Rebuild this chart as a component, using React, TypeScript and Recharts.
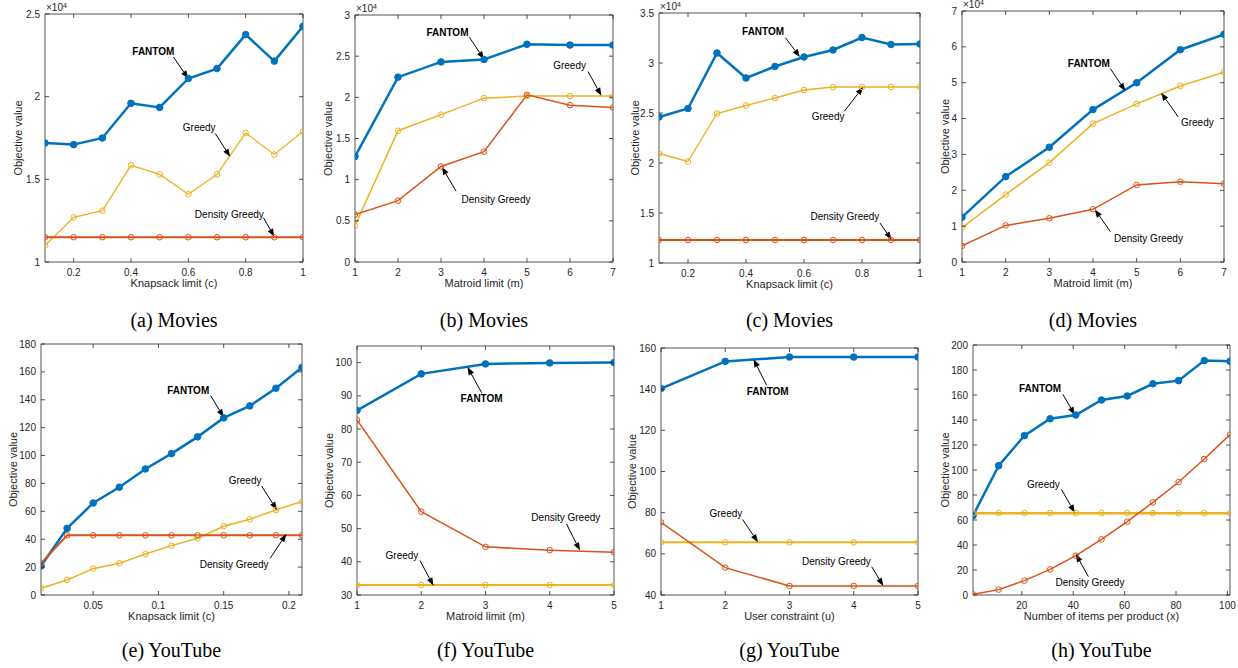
import React from 'react';
import { LineChart, Line, XAxis, YAxis, ReferenceArea, ReferenceLine, ReferenceDot } from 'recharts';

const BLUE = '#0072BD';
const YEL = '#EDB120';
const RED = '#D95319';
const AX = '#262626';
const FONT = '"Liberation Sans", Arial, Helvetica, sans-serif';
const SERIF = '"Liberation Serif", "Times New Roman", Times, serif';

// ---------- (a) Movies, knapsack ----------
const aX = [0.1, 0.2, 0.3, 0.4, 0.5, 0.6, 0.7, 0.8, 0.9, 1.0];
const aFantom = [17200, 17100, 17500, 19600, 19350, 21100, 21700, 23750, 22150, 24250];
const aGreedy = [11000, 12700, 13100, 15850, 15300, 14100, 15300, 17800, 16500, 17900];
const aDensity = [11500, 11500, 11500, 11500, 11500, 11500, 11500, 11500, 11500, 11500];
const aXTicks = [0.2, 0.4, 0.6, 0.8, 1];
const aYTicks = [10000, 15000, 20000, 25000];

// ---------- (b) Movies, matroid ----------
const bX = [1, 2, 3, 4, 5, 6, 7];
const bFantom = [12800, 22450, 24300, 24600, 26450, 26350, 26350];
const bGreedy = [4400, 15950, 17900, 19900, 20150, 20150, 20150];
const bDensity = [5750, 7450, 11600, 13400, 20300, 19050, 18750];
const bXTicks = [1, 2, 3, 4, 5, 6, 7];
const bYTicks = [0, 5000, 10000, 15000, 20000, 25000, 30000];

// ---------- (c) Movies, knapsack ----------
const cX = [0.1, 0.2, 0.3, 0.4, 0.5, 0.6, 0.7, 0.8, 0.9, 1.0];
const cFantom = [24600, 25450, 31000, 28500, 29650, 30600, 31300, 32550, 31850, 31900];
const cGreedy = [20950, 20150, 24950, 25750, 26500, 27300, 27600, 27600, 27600, 27600];
const cDensity = [12300, 12300, 12300, 12300, 12300, 12300, 12300, 12300, 12300, 12300];
const cXTicks = [0.2, 0.4, 0.6, 0.8, 1];
const cYTicks = [10000, 15000, 20000, 25000, 30000, 35000];

// ---------- (d) Movies, matroid ----------
const dX = [1, 2, 3, 4, 5, 6, 7];
const dFantom = [12500, 23800, 32000, 42500, 50000, 59200, 63500];
const dGreedy = [9600, 18800, 27700, 38600, 44100, 49100, 52900];
const dDensity = [4500, 10200, 12200, 14700, 21500, 22400, 21800];
const dXTicks = [1, 2, 3, 4, 5, 6, 7];
const dYTicks = [0, 10000, 20000, 30000, 40000, 50000, 60000, 70000];

// ---------- (e) YouTube, knapsack ----------
const eX = [0.01, 0.03, 0.05, 0.07, 0.09, 0.11, 0.13, 0.15, 0.17, 0.19, 0.21];
const eFantom = [20.8, 47.8, 66, 77.3, 90.4, 101.4, 113.4, 127, 135.6, 148.3, 163.2];
const eGreedy = [4.8, 10.8, 18.9, 22.7, 29.4, 35.4, 40.7, 49.3, 54.3, 61, 67];
const eDensity = [22.7, 42.8, 42.8, 42.8, 42.8, 42.8, 42.8, 42.8, 42.8, 42.8, 42.8];
const eXTicks = [0.05, 0.1, 0.15, 0.2];
const eYTicks = [0, 20, 40, 60, 80, 100, 120, 140, 160, 180];

// ---------- (f) YouTube, matroid ----------
const fX = [1, 2, 3, 4, 5];
const fFantom = [85.6, 96.6, 99.6, 99.9, 100];
const fGreedy = [33, 33, 33, 33, 33];
const fDensity = [82.7, 55.1, 44.5, 43.5, 42.9];
const fXTicks = [1, 2, 3, 4, 5];
const fYTicks = [30, 40, 50, 60, 70, 80, 90, 100];

// ---------- (g) YouTube, user constraint ----------
const gX = [1, 2, 3, 4, 5];
const gFantom = [140.3, 153.5, 155.6, 155.6, 155.6];
const gGreedy = [65.6, 65.6, 65.6, 65.6, 65.6];
const gDensity = [75.3, 53.3, 44.4, 44.4, 44.4];
const gXTicks = [1, 2, 3, 4, 5];
const gYTicks = [40, 60, 80, 100, 120, 140, 160];

// ---------- (h) YouTube, items per product ----------
const hX = [1, 11, 21, 31, 41, 51, 61, 71, 81, 91, 101];
const hFantom = [63.5, 103.5, 127.5, 141, 144, 156, 159.2, 169, 171.5, 187.5, 187];
const hGreedy = [65.5, 65.5, 65.5, 65.5, 65.5, 65.5, 65.5, 65.5, 65.5, 65.5, 65.5];
const hDensity = [0.5, 4.3, 11.5, 20.5, 31.5, 44.5, 58.7, 74.1, 90.4, 108.8, 128.3];
const hXTicks = [20, 40, 60, 80, 100];
const hYTicks = [0, 20, 40, 60, 80, 100, 120, 140, 160, 180, 200];

// annotations: [text, textX, textY, arrowFromX, arrowFromY, arrowToX, arrowToY]
type Ann = [string, number, number, number, number, number, number];
const aAnn: Ann[] = [
  ['FANTOM', 0.478, 22740, 0.548, 22400, 0.6, 21090],
  ['Greedy', 0.638, 18110, 0.694, 17770, 0.746, 16360],
  ['Density Greedy', 0.743, 12880, 0.862, 12680, 0.9, 11530],
];
const bAnn: Ann[] = [
  ['FANTOM', 3.15, 27900, 3.66, 27300, 4.0, 24630],
  ['Greedy', 5.99, 23860, 6.42, 23130, 6.73, 20190],
  ['Density Greedy', 4.28, 7590, 3.35, 8600, 3.02, 11550],
];
const cAnn: Ann[] = [
  ['FANTOM', 0.459, 33170, 0.536, 32530, 0.586, 30600],
  ['Greedy', 0.683, 24670, 0.739, 25170, 0.804, 27600],
  ['Density Greedy', 0.741, 14670, 0.862, 14000, 0.902, 12330],
];
const dAnn: Ann[] = [
  ['FANTOM', 3.905, 55340, 4.4, 53900, 4.74, 47700],
  ['Greedy', 6.39, 38800, 5.95, 40500, 5.56, 47200],
  ['Density Greedy', 5.27, 6500, 4.4, 8450, 4.04, 14670],
];
const eAnn: Ann[] = [
  ['FANTOM', 0.1228, 146.7, 0.14, 143, 0.15, 127.5],
  ['Greedy', 0.1664, 82, 0.179, 78.2, 0.1908, 61],
  ['Density Greedy', 0.158, 22, 0.1856, 26.3, 0.198, 43.8],
];
const fAnn: Ann[] = [
  ['FANTOM', 2.94, 89.2, 2.94, 90.9, 2.72, 98.7],
  ['Greedy', 1.7, 41.8, 1.98, 40.4, 2.19, 32.8],
  ['Density Greedy', 4.25, 53.4, 4.26, 51.4, 4.47, 43.4],
];
const gAnn: Ann[] = [
  ['FANTOM', 2.66, 139.1, 2.645, 141.9, 2.44, 154.5],
  ['Greedy', 2.01, 79.6, 2.27, 76.7, 2.51, 65.6],
  ['Density Greedy', 3.73, 56.2, 4.28, 53.7, 4.46, 44.4],
];
const hAnn: Ann[] = [
  ['FANTOM', 27.1, 165.3, 36, 160.5, 40.6, 144],
  ['Greedy', 28.4, 88.8, 35.4, 84.5, 40.6, 65.9],
  ['Density Greedy', 46.5, 10, 45.9, 14.7, 41, 32.8],
];

type Panel = {
  x: number[]; fantom: number[]; greedy: number[]; density: number[];
  xDomain: [number, number]; yDomain: [number, number];
  xTicks: number[]; yTicks: number[]; scale: number;
  xLabel: string; caption: string; ann: Ann[];
  L: number; T: number; R: number; B: number; yLabOff: number;
  gW: number; dW: number; capY: number;
};

const panels: Panel[] = [
  { x: aX, fantom: aFantom, greedy: aGreedy, density: aDensity, xDomain: [0.1, 1], yDomain: [10000, 25000], xTicks: aXTicks, yTicks: aYTicks, scale: 1e4, xLabel: 'Knapsack limit (c)', caption: '(a) Movies', ann: aAnn, L: 45, T: 14, R: 303, B: 262, yLabOff: -27, gW: 1.3, dW: 2, capY: 320 },
  { x: bX, fantom: bFantom, greedy: bGreedy, density: bDensity, xDomain: [1, 7], yDomain: [0, 30000], xTicks: bXTicks, yTicks: bYTicks, scale: 1e4, xLabel: 'Matroid limit (m)', caption: '(b) Movies', ann: bAnn, L: 355, T: 15, R: 613, B: 262, yLabOff: -27, gW: 1.5, dW: 1.5, capY: 320 },
  { x: cX, fantom: cFantom, greedy: cGreedy, density: cDensity, xDomain: [0.1, 1], yDomain: [10000, 35000], xTicks: cXTicks, yTicks: cYTicks, scale: 1e4, xLabel: 'Knapsack limit (c)', caption: '(c) Movies', ann: cAnn, L: 659, T: 13, R: 920, B: 263, yLabOff: -24, gW: 1.3, dW: 2.2, capY: 320 },
  { x: dX, fantom: dFantom, greedy: dGreedy, density: dDensity, xDomain: [1, 7], yDomain: [0, 70000], xTicks: dXTicks, yTicks: dYTicks, scale: 1e4, xLabel: 'Matroid limit (m)', caption: '(d) Movies', ann: dAnn, L: 962, T: 11, R: 1224, B: 262, yLabOff: -17, gW: 1.5, dW: 1.5, capY: 320 },
  { x: eX, fantom: eFantom, greedy: eGreedy, density: eDensity, xDomain: [0.01, 0.21], yDomain: [0, 180], xTicks: eXTicks, yTicks: eYTicks, scale: 1, xLabel: 'Knapsack limit (c)', caption: '(e) YouTube', ann: eAnn, L: 41, T: 344, R: 302, B: 595, yLabOff: -28, gW: 1.5, dW: 2, capY: 650 },
  { x: fX, fantom: fFantom, greedy: fGreedy, density: fDensity, xDomain: [1, 5], yDomain: [30, 105], xTicks: fXTicks, yTicks: fYTicks, scale: 1, xLabel: 'Matroid limit (m)', caption: '(f) YouTube', ann: fAnn, L: 357, T: 346, R: 614, B: 595, yLabOff: -28, gW: 2, dW: 1.5, capY: 650 },
  { x: gX, fantom: gFantom, greedy: gGreedy, density: gDensity, xDomain: [1, 5], yDomain: [40, 160], xTicks: gXTicks, yTicks: gYTicks, scale: 1, xLabel: 'User constraint (u)', caption: '(g) YouTube', ann: gAnn, L: 661, T: 348, R: 918, B: 595, yLabOff: -29, gW: 2, dW: 1.5, capY: 650 },
  { x: hX, fantom: hFantom, greedy: hGreedy, density: hDensity, xDomain: [1, 101], yDomain: [0, 200], xTicks: hXTicks, yTicks: hYTicks, scale: 1, xLabel: 'Number of items per product (x)', caption: '(h) YouTube', ann: hAnn, L: 973, T: 345, R: 1230, B: 595, yLabOff: -28, gW: 2.5, dW: 1.5, capY: 650 },
];

const ML = 40, MT = 14, MR = 6, MB = 34;

const Arrow = (p: any) => {
  const { x1, y1, x2, y2 } = p;
  const dx = x2 - x1, dy = y2 - y1;
  const len = Math.hypot(dx, dy) || 1;
  const ux = dx / len, uy = dy / len;
  const hl = 8, hw = 3;
  const bx = x2 - ux * hl, by = y2 - uy * hl;
  const pts = `${x2},${y2} ${bx - uy * hw},${by + ux * hw} ${bx + uy * hw},${by - ux * hw}`;
  return (
    <g>
      <line x1={x1} y1={y1} x2={bx} y2={by} stroke="#000" strokeWidth={1} />
      <polygon points={pts} fill="#000" />
    </g>
  );
};

function PanelChart({ p }: { p: Panel }) {
  const pw = p.R - p.L, ph = p.B - p.T;
  const W = pw + ML + MR, H = ph + MT + MB;
  const rows = p.x.map((x, i) => ({ x, fantom: p.fantom[i], greedy: p.greedy[i], density: p.density[i] }));
  const fmtY = (v: number) => String(Math.round((v / p.scale) * 100) / 100);
  const XTick = (t: any) => (
    <g>
      <line x1={t.x} y1={t.y} x2={t.x} y2={t.y - 4} stroke={AX} strokeWidth={0.8} />
      <line x1={t.x} y1={MT} x2={t.x} y2={MT + 4} stroke={AX} strokeWidth={0.8} />
      <text x={t.x} y={t.y + 14} textAnchor="middle" fontSize={10} fill={AX} fontFamily={FONT}>{String(t.payload.value)}</text>
    </g>
  );
  const YTick = (t: any) => (
    <g>
      <line x1={t.x} y1={t.y} x2={t.x + 4} y2={t.y} stroke={AX} strokeWidth={0.8} />
      <line x1={ML + pw} y1={t.y} x2={ML + pw - 4} y2={t.y} stroke={AX} strokeWidth={0.8} />
      <text x={t.x - 5} y={t.y + 3.5} textAnchor="end" fontSize={10} fill={AX} fontFamily={FONT}>{fmtY(t.payload.value)}</text>
    </g>
  );
  const xLab = () => (
    <text x={ML + pw / 2} y={MT + ph + 25} textAnchor="middle" fontSize={11} fill={AX} fontFamily={FONT}>{p.xLabel}</text>
  );
  const yLab = () => (
    <text transform={`translate(${ML + p.yLabOff},${MT + ph / 2}) rotate(-90)`} textAnchor="middle" dominantBaseline="central" fontSize={11} fill={AX} fontFamily={FONT}>Objective value</text>
  );
  return (
    <div style={{ position: 'absolute', left: p.L - ML, top: p.T - MT }}>
      <LineChart width={W} height={H} data={rows} margin={{ top: MT, right: MR, bottom: 0, left: 0 }}>
        <XAxis dataKey="x" type="number" domain={p.xDomain} ticks={p.xTicks} interval={0} tickSize={0} tickMargin={0}
          axisLine={false} tickLine={false} tick={XTick} height={MB} allowDataOverflow label={xLab} />
        <YAxis type="number" domain={p.yDomain} ticks={p.yTicks} interval={0} tickSize={0} tickMargin={0}
          axisLine={false} tickLine={false} tick={YTick} width={ML} allowDataOverflow label={yLab} />
        <ReferenceArea x1={p.xDomain[0]} x2={p.xDomain[1]} y1={p.yDomain[0]} y2={p.yDomain[1]} fill="none" fillOpacity={0}
          stroke={AX} strokeWidth={0.8} ifOverflow="visible" />
        <Line dataKey="fantom" type="linear" stroke={BLUE} strokeWidth={2.5} isAnimationActive={false}
          dot={{ r: 3.3, fill: BLUE, stroke: BLUE, strokeWidth: 1 }} activeDot={false} />
        <Line dataKey="greedy" type="linear" stroke={YEL} strokeWidth={p.gW} isAnimationActive={false}
          dot={{ r: 2.8, fill: 'none', stroke: YEL, strokeWidth: 1 }} activeDot={false} />
        <Line dataKey="density" type="linear" stroke={RED} strokeWidth={p.dW} isAnimationActive={false}
          dot={{ r: 2.8, fill: 'none', stroke: RED, strokeWidth: 1 }} activeDot={false} />
        {p.ann.map((a, i) => (
          <ReferenceLine key={'l' + i} segment={[{ x: a[3], y: a[4] }, { x: a[5], y: a[6] }]} ifOverflow="visible" shape={Arrow} />
        ))}
        {p.ann.map((a, i) => (
          <ReferenceDot key={'t' + i} x={a[1]} y={a[2]} r={1} ifOverflow="visible"
            shape={(d: any) => (
              <text x={d.cx} y={d.cy} textAnchor="middle" dominantBaseline="central" fontSize={10}
                fontWeight={a[0] === 'FANTOM' ? 'bold' : 'normal'} fill="#000" fontFamily={FONT}>{a[0]}</text>
            )} />
        ))}
        {p.scale !== 1 && (
          <ReferenceDot x={p.xDomain[0]} y={p.yDomain[1]} r={1} ifOverflow="visible"
            shape={(d: any) => (
              <text x={d.cx + 1} y={Math.max(d.cy - 3, 9)} fontSize={10} fill={AX} fontFamily={FONT}>
                ×10<tspan fontSize={7} dy={-3.5}>4</tspan>
              </text>
            )} />
        )}
      </LineChart>
    </div>
  );
}

export default function App() {
  return (
    <div style={{ position: 'absolute', left: 0, top: 0, width: 1238, height: 668, background: '#fff', overflow: 'hidden' }}>
      {panels.map((p, i) => (
        <PanelChart key={i} p={p} />
      ))}
      {panels.map((p, i) => (
        <div key={'c' + i} style={{ position: 'absolute', left: (p.L + p.R) / 2 - 100, width: 200, top: p.capY - 12, textAlign: 'center', fontFamily: SERIF, fontSize: 20, lineHeight: '24px', color: '#000', whiteSpace: 'nowrap' }}>
          {p.caption}
        </div>
      ))}
    </div>
  );
}
